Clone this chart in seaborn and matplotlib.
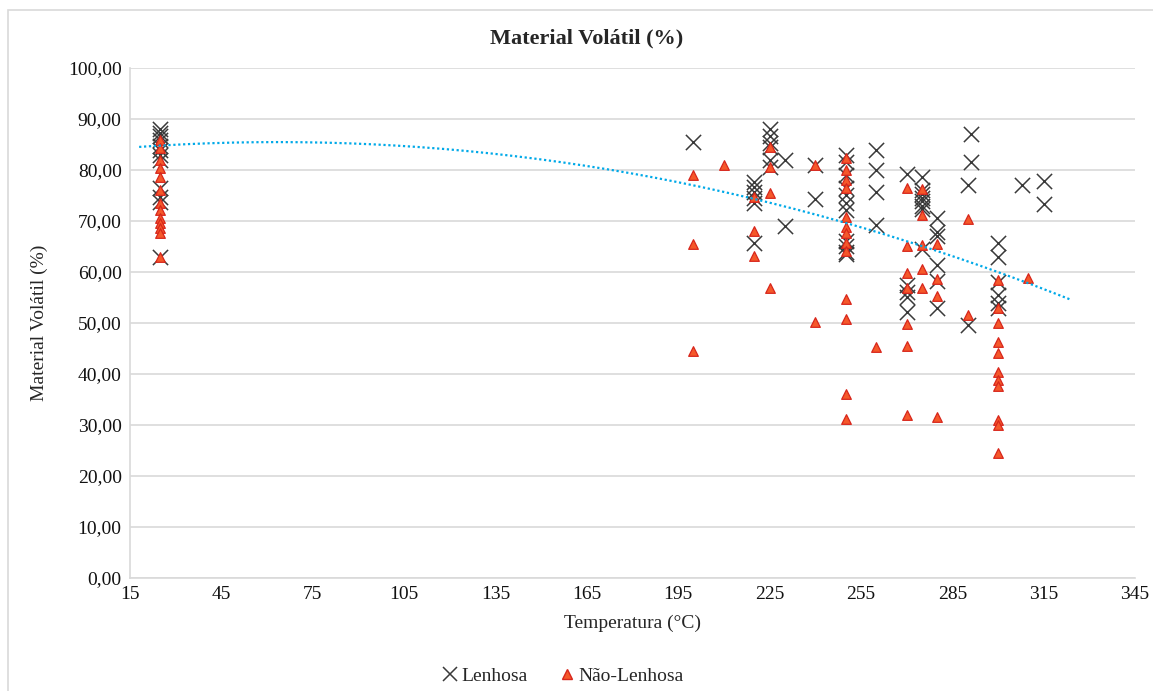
import numpy as np
import pandas as pd
import matplotlib
matplotlib.use("Agg")
import matplotlib.pyplot as plt
import seaborn as sns
from matplotlib.patches import Rectangle
from matplotlib.lines import Line2D

# ---- data ----
lenhosa_x = ([25] * 12 + [200] + [220] * 6 + [225] * 6 + [230] * 2 + [240] * 2 +
             [250] * 11 + [260] * 4 + [270] * 5 + [275] * 8 + [280] * 6 +
             [291] * 2 + [290] * 2 + [300] * 6 + [308] + [315] * 2)
lenhosa_y = [88.0, 87.2, 86.6, 85.9, 84.8, 83.9, 83.0, 82.0, 76.5, 74.7, 73.8, 63.0,
             85.5,
             77.6, 76.7, 75.7, 74.5, 73.5, 65.7,
             88.0, 86.6, 85.3, 84.5, 82.0, 80.5,
             82.0, 69.0,
             81.0, 74.3,
             83.0, 81.5, 79.0, 76.5, 75.0, 73.5, 72.2, 66.0, 65.0, 64.0, 63.5,
             84.0, 80.0, 75.7, 69.2,
             79.2, 57.5, 56.0, 55.0, 52.2,
             78.6, 76.0, 75.3, 74.6, 73.9, 73.0, 72.4, 64.5,
             70.6, 67.8, 67.0, 61.4, 58.2, 52.9,
             87.0, 81.5,
             77.0, 49.6,
             65.7, 63.0, 58.0, 55.5, 54.0, 52.9,
             77.0,
             77.8, 73.3]

nao_x = ([25] * 13 + [200] * 3 + [210] + [220] * 3 + [225] * 4 + [240] * 2 +
         [250] * 13 + [260] + [270] * 7 + [275] * 5 + [280] * 4 + [290] * 2 +
         [300] * 11 + [310])
nao_y = [85.9, 84.3, 82.0, 80.4, 78.6, 76.1, 73.5, 72.2, 70.6, 69.6, 68.6, 67.6, 63.0,
         79.0, 65.5, 44.5,
         81.0,
         74.8, 68.0, 63.2,
         84.5, 80.6, 75.5, 56.8,
         81.0, 50.2,
         82.3, 80.0, 78.0, 76.5, 70.8, 68.8, 67.6, 65.7, 64.2, 54.7, 50.8, 36.0, 31.2,
         45.2,
         76.5, 65.0, 59.8, 56.9, 49.8, 45.4, 32.0,
         76.2, 71.2, 65.3, 60.6, 56.9,
         65.4, 58.7, 55.3, 31.5,
         70.3, 51.6,
         58.5, 52.9, 50.0, 46.3, 44.1, 40.4, 38.8, 37.7, 31.0, 30.0, 24.5,
         58.8]

# polynomial (order 2) trendline coefficients (a, b, c)
trend_coef = [-4.56e-4, 0.0580, 83.63]
trend_range = [18, 324]

x_ticks = list(range(15, 346, 30))
y_ticks = list(range(0, 101, 10))
y_tick_labels = [f"{v},00" for v in y_ticks]

title = "Material Volátil (%)"
x_label = "Temperatura (°C)"
y_label = "Material Volátil (%)"
series_names = ["Lenhosa", "Não-Lenhosa"]

df_l = pd.DataFrame({"x": lenhosa_x, "y": lenhosa_y})
df_n = pd.DataFrame({"x": nao_x, "y": nao_y})

# ---- style ----
sns.set_theme(style="white")
plt.rcParams["font.family"] = ["Liberation Serif", "DejaVu Serif"]

fig = plt.figure(figsize=(11.53, 6.91), dpi=100)
ax = fig.add_axes([130 / 1153, 1 - 578 / 691, (1135 - 130) / 1153, (578 - 68) / 691])

x_col = "#3a3a3a"
tri_face = "#F5582A"
tri_edge = "#D8261C"

sns.scatterplot(data=df_l, x="x", y="y", marker="x", s=120, color=x_col,
                linewidth=1.1, ax=ax, zorder=3)
sns.scatterplot(data=df_n, x="x", y="y", marker="^", s=48, color=tri_face,
                edgecolor=tri_edge, linewidth=0.9, ax=ax, zorder=4)

xt = np.linspace(trend_range[0], trend_range[1], 200)
ax.plot(xt, np.polyval(trend_coef, xt), linestyle=(0, (1, 1.2)), color="#00A9E8",
        linewidth=1.6, zorder=5)

ax.set_xlim(15, 345)
ax.set_ylim(0, 100)
ax.set_xticks(x_ticks)
ax.set_xticklabels([str(v) for v in x_ticks], fontsize=14)
ax.set_yticks(y_ticks)
ax.set_yticklabels(y_tick_labels, fontsize=14)
ax.tick_params(axis="both", length=0, pad=6, colors="#111111")
ax.yaxis.grid(True, color="#D9D9D9", linewidth=1.2)
ax.xaxis.grid(False)
for side in ["top", "right"]:
    ax.spines[side].set_visible(False)
for side in ["left", "bottom"]:
    ax.spines[side].set_color("#D9D9D9")
    ax.spines[side].set_linewidth(1.2)
ax.set_axisbelow(True)

ax.set_xlabel(x_label, fontsize=14, labelpad=8)
ax.set_ylabel(y_label, fontsize=14, labelpad=14)
fig.text(587 / 1153, 1 - 38 / 691, title, ha="center", va="center",
         fontsize=16, fontweight="bold")

handles = [
    Line2D([], [], marker="x", linestyle="none", color=x_col, markersize=10,
           markeredgewidth=1.1),
    Line2D([], [], marker="^", linestyle="none", markerfacecolor=tri_face,
           markeredgecolor=tri_edge, markersize=7),
]
fig.legend(handles, series_names, loc="center", bbox_to_anchor=(562 / 1153, 1 - 676 / 691),
           ncol=2, frameon=False, fontsize=14, handletextpad=0.1, columnspacing=1.5,
           handlelength=1.0)

# outer chart border
fig.patches.append(Rectangle((8 / 1153, -0.05), 1.2, 1 - 10 / 691 + 0.05,
                             transform=fig.transFigure, fill=False,
                             edgecolor="#D9D9D9", linewidth=1.2))

fig.savefig("out.png", dpi=100)
